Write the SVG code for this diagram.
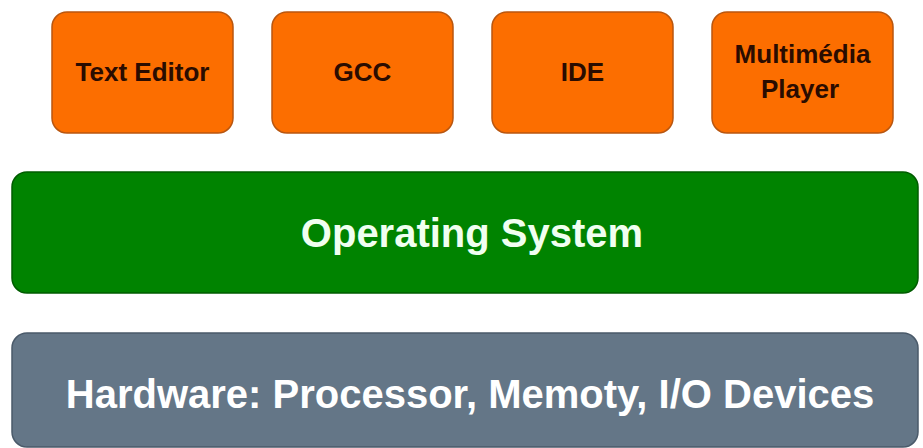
<svg xmlns="http://www.w3.org/2000/svg" width="923" height="448" viewBox="0 0 923 448">
  <style>
    .app { fill: #fc6e00; stroke: #b9560f; stroke-width: 1.5; }
    .app-label { font-family: "Liberation Sans", Arial, sans-serif; font-weight: bold; font-size: 26px; fill: #2a0c00; text-anchor: middle; }
    .os { fill: #008300; stroke: #005c00; stroke-width: 1.5; }
    .os-label { font-family: "Liberation Sans", Arial, sans-serif; font-weight: bold; font-size: 40px; fill: #f0fff0; text-anchor: middle; }
    .hw { fill: #647687; stroke: #4a5a6a; stroke-width: 1.5; }
    .hw-label { font-family: "Liberation Sans", Arial, sans-serif; font-weight: bold; font-size: 40px; fill: #ffffff; text-anchor: middle; }
  </style>
  <rect width="923" height="448" fill="#ffffff"/>

  <!-- application layer -->
  <g id="text-editor">
    <rect class="app" x="52" y="12" width="181" height="121" rx="15"/>
    <text class="app-label" x="142.5" y="81">Text Editor</text>
  </g>
  <g id="gcc">
    <rect class="app" x="272" y="12" width="181" height="121" rx="15"/>
    <text class="app-label" x="362.5" y="81">GCC</text>
  </g>
  <g id="ide">
    <rect class="app" x="492" y="12" width="181" height="121" rx="15"/>
    <text class="app-label" x="582.5" y="81">IDE</text>
  </g>
  <g id="multimedia-player">
    <rect class="app" x="712" y="12" width="181" height="121" rx="15"/>
    <text class="app-label" x="802.5" y="63">Multimédia</text>
    <text class="app-label" x="800" y="98">Player</text>
  </g>

  <!-- operating system layer -->
  <g id="operating-system">
    <rect class="os" x="12" y="172" width="906" height="121" rx="15"/>
    <text class="os-label" x="472" y="247">Operating System</text>
  </g>

  <!-- hardware layer -->
  <g id="hardware">
    <rect class="hw" x="12" y="333" width="906" height="114" rx="15"/>
    <text class="hw-label" x="470" y="408">Hardware: Processor, Memoty, I/O Devices</text>
  </g>

  <g id="connectors"/>
</svg>
